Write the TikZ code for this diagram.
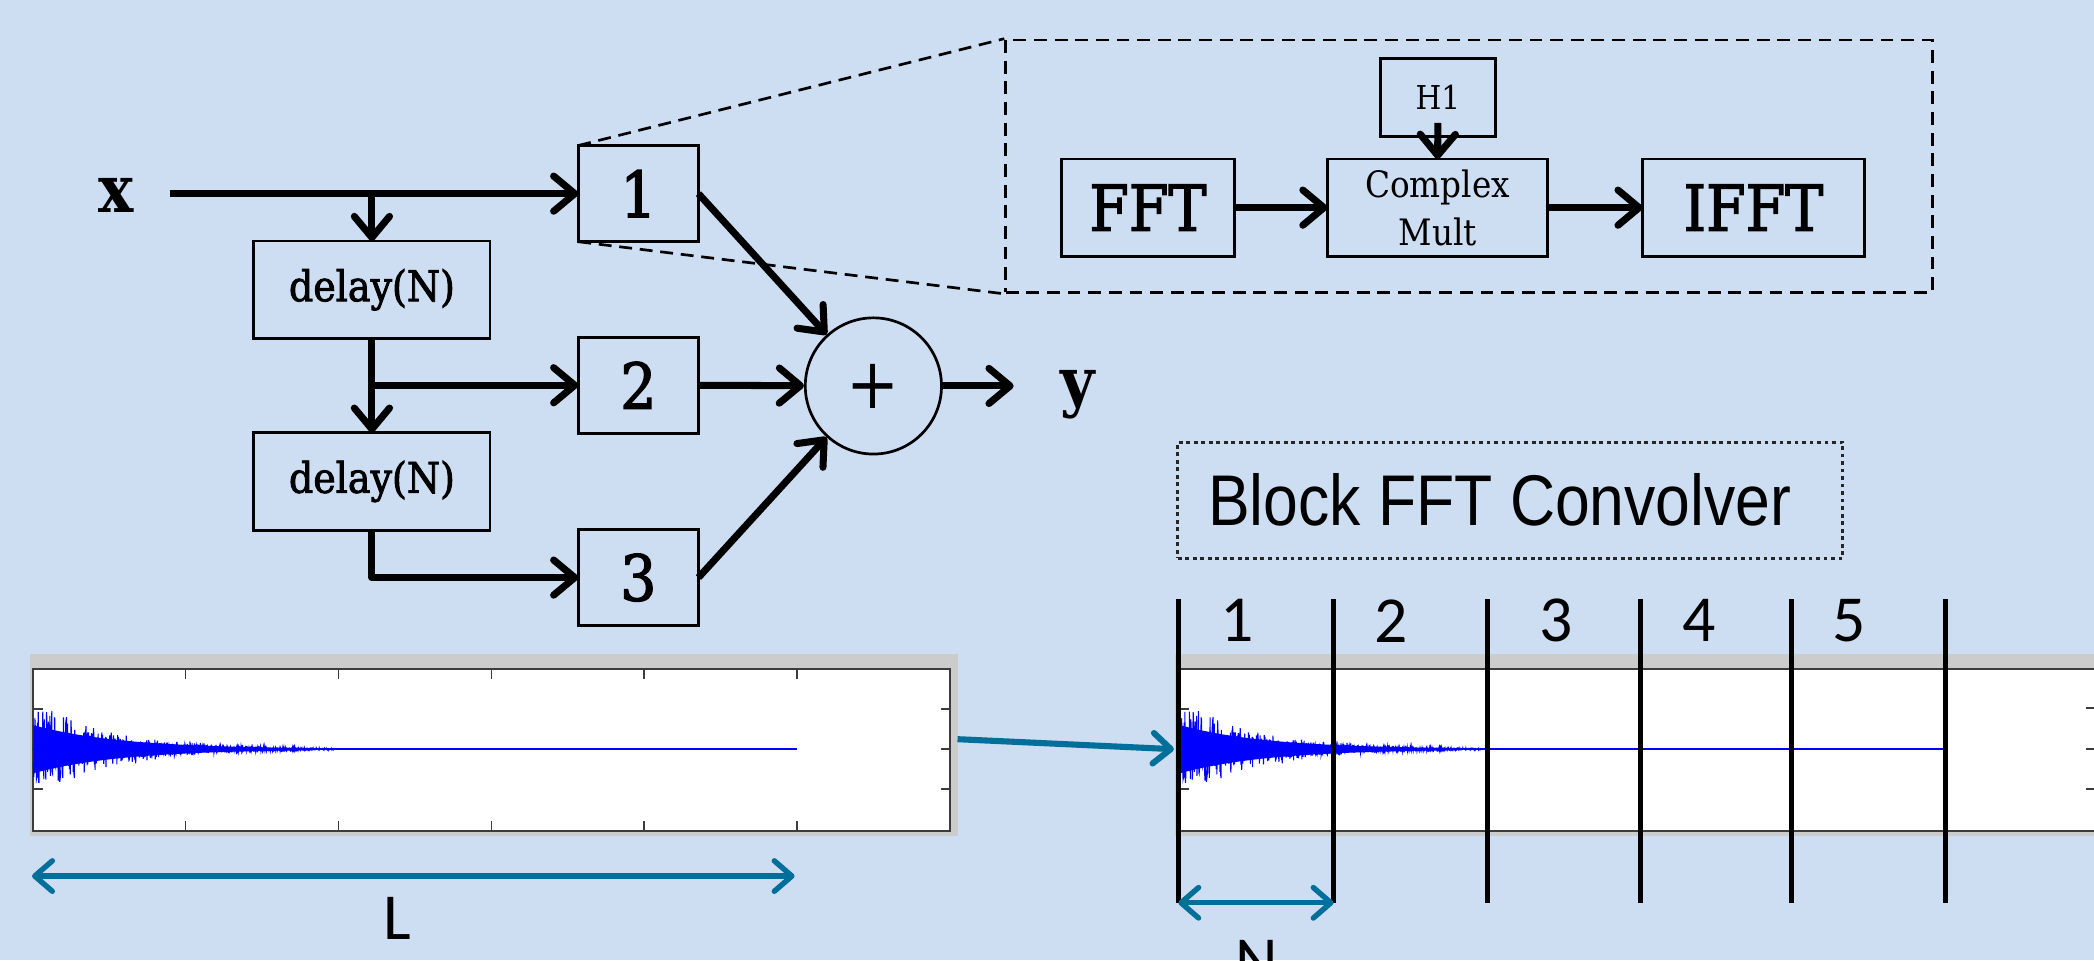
\documentclass[tikz,border=0pt]{standalone}
\usepackage{fontspec}
\usetikzlibrary{arrows.meta}
\newfontfamily\serfont{DejaVu Serif Condensed}
\newfontfamily\serfontmed[FakeBold=2]{DejaVu Serif Condensed}
\newfontfamily\bfcfont[FakeStretch=0.87]{Liberation Sans}
\newfontfamily\calfont{Carlito}
\definecolor{bg}{RGB}{205,221,242}
\definecolor{framegray}{RGB}{204,204,204}
\definecolor{tealarrow}{RGB}{0,112,155}
\definecolor{axisgray}{RGB}{60,60,60}
\definecolor{waveblue}{RGB}{0,0,255}
\begin{document}
\begin{tikzpicture}[x=0.02cm,y=-0.02cm,
  sz/.style 2 args={minimum width={#1*0.02cm},minimum height={#2*0.02cm}},
  blk/.style={draw=black,line width=1.15pt,inner sep=0pt,outer sep=0pt},
  conn/.style={line width=3pt,line join=round,-{Straight Barb[length=9pt,width=15pt,round]}},
  tconn/.style={draw=tealarrow,line width=2.3pt,{Straight Barb[length=7.5pt,width=13pt,round]}-{Straight Barb[length=7.5pt,width=13pt,round]}},
  tconnone/.style={draw=tealarrow,line width=2.6pt,-{Straight Barb[length=7.5pt,width=13pt,round]}},
  dashline/.style={line width=1.15pt,dash pattern=on 5.5pt off 3.3pt},
  dashbox/.style={draw=black,line width=1.15pt,dash pattern=on 5.5pt off 3.3pt,inner sep=0pt},
  dotbox/.style={draw=black!85,line width=1.3pt,dash pattern=on 1.6pt off 1.6pt,inner sep=0pt},
  tick/.style={draw=axisgray,line width=0.7pt},
  wave/.style={draw=waveblue,line width=0.45pt},
  blockline/.style={draw=black,line width=2.1pt},
  delayfont/.style={font=\serfontmed\fontsize{18}{18}\selectfont},
  digfont/.style={font=\serfontmed\fontsize{27}{27}\selectfont},
  bigfont/.style={font=\serfontmed\fontsize{27}{27}\selectfont},
  xyfont/.style={font=\serfont\bfseries\fontsize{28}{28}\selectfont,inner sep=0pt},
  calnum/.style={font=\calfont\fontsize{28}{28}\selectfont,inner sep=0pt}
]
\clip (0,0) rectangle (1568,719);
\fill[bg] (0,0) rectangle (1568,719);

% ---------- left block diagram ----------
\node[xyfont] (xin) at (87,146) {x};
\node[blk,sz={90}{72},digfont] (b1) at (478,145) {1};
\node[blk,sz={90}{72},digfont] (b2) at (478,288.5) {2};
\node[blk,sz={90}{72},digfont] (b3) at (478,432.5) {3};
\node[blk,sz={177}{73},delayfont] (d1) at (278.5,217) {delay(N)};
\node[blk,sz={177}{73},delayfont] (d2) at (278.5,360.5) {delay(N)};
\node[circle,draw=black,line width=1.15pt,inner sep=0pt,minimum size={102*0.02cm},
      font=\serfont\fontsize{30}{30}\selectfont] (sum) at (654,289) {+};
\node[anchor=base,xyfont] (yout) at (807,303) {y};

\coordinate (xs) at (127,145);
\coordinate (j1) at (278.5,145);
\coordinate (j2) at (278.5,288.5);
\coordinate (yend) at (759,289);

\draw[conn] (xs) -- (b1.west);
\draw[conn] (j1) -- (d1.north);
\draw[conn] (d1.south) -- (d2.north);
\draw[conn] (j2) -- (b2.west);
\draw[conn] (d2.south) |- (b3.west);
\draw[conn] (b1.east) -- (sum);
\draw[conn] (b2.east) -- (sum);
\draw[conn] (b3.east) -- (sum);
\draw[conn] (sum.east) -- (yend);

% ---------- zoomed detail ----------
\node[dashbox,sz={694}{189}] (zoombox) at (1100,124.5) {};
\draw[dashline] (b1.north west) -- (zoombox.north west);
\draw[dashline] (b1.south west) -- (zoombox.south west);

\node[blk,sz={130}{73},bigfont] (fft) at (859.6,155.5) {FFT};
\node[blk,sz={165}{73},align=center,font=\serfont\fontsize{15.5}{20.4}\selectfont] (cm) at (1076.5,155.5) {Complex\\Mult};
\node[blk,sz={166}{73},bigfont] (ifft) at (1313,155.5) {IFFT};
\node[blk,sz={86}{58},font=\serfont\fontsize{14}{14}\selectfont] (h1) at (1076.7,73) {H1};
\draw[conn] (fft.east) -- (cm.west);
\draw[conn] (cm.east) -- (ifft.west);
\draw[conn] ([yshift=0.2cm]h1.south) -- (cm.north);

% ---------- Block FFT Convolver label ----------
\node[dotbox,sz={498}{87},font=\bfcfont\fontsize{30.6}{30.6}\selectfont] (bfc) at (1131,374.5) {\hspace*{-0.32cm}Block FFT Convolver};

% ---------- plot 1 ----------
\fill[framegray] (22.5,490) rectangle (717,626);
\filldraw[fill=white,draw=axisgray,line width=0.8pt] (25,501) rectangle (711.5,622);
\foreach \t in {139,253.5,368,482,597} {
  \draw[tick] (\t,501) -- ++(0,7.5);
  \draw[tick] (\t,622) -- ++(0,-7.5);
}
\foreach \t in {531,561,591} \draw[tick] (711.5,\t) -- ++(-7,0);
\foreach \t in {531,591} \draw[tick] (25,\t) -- ++(7,0);
\draw[draw=waveblue,line width=1.1pt] (25,561) -- (597,561);
\fill[waveblue] plot[domain=0:200,samples=60,variable=\t] ({25+\t},{561+18*exp(-\t/66)})
  -- plot[domain=200:0,samples=60,variable=\t] ({25+\t},{561-18*exp(-\t/66)}) -- cycle;
\pgfmathsetseed{4242}
\draw[wave] plot[domain=0:225,samples=800,variable=\t] ({25+\t},{561+38*exp(-\t/60)*(0.75*rand+0.3*rand)});

% ---------- plot 2 ----------
\fill[framegray] (880,490) rectangle (1580,626);
\filldraw[fill=white,draw=axisgray,line width=0.8pt] (883.6,501) rectangle (1590,622);
\foreach \t in {530,561,591} \draw[tick] (1569,\t) -- ++(-7,0);
\foreach \t in {531,591} \draw[tick] (883.6,\t) -- ++(7,0);
\draw[draw=waveblue,line width=1.1pt] (883.6,561) -- (1455.6,561);
\fill[waveblue] plot[domain=0:200,samples=60,variable=\t] ({883.6+\t},{561+18*exp(-\t/66)})
  -- plot[domain=200:0,samples=60,variable=\t] ({883.6+\t},{561-18*exp(-\t/66)}) -- cycle;
\pgfmathsetseed{4242}
\draw[wave] plot[domain=0:225,samples=800,variable=\t] ({883.6+\t},{561+38*exp(-\t/60)*(0.75*rand+0.3*rand)});

% block separators
\foreach \bx in {882.3,998.6,1113.5,1228.5,1341.7,1456.6}
  \draw[blockline] (\bx,448.6) -- (\bx,676);
\node[calnum] (n1) at (926,464.8) {1};
\node[calnum] (n2) at (1042,464.8) {2};
\node[calnum] (n3) at (1165,464.8) {3};
\node[calnum] (n4) at (1272,464.8) {4};
\node[calnum] (n5) at (1385,464.8) {5};

% ---------- teal arrows ----------
\coordinate (pa) at (717,553.5);
\coordinate (pb) at (879,561);
\draw[tconnone] (pa) -- (pb);
\coordinate (la) at (24,656);
\coordinate (lb) at (595,656);
\draw[tconn] (la) -- (lb);
\node[calnum] (lab) at (297.5,688) {L};
\coordinate (na) at (882.3,676);
\coordinate (nb) at (998.6,676);
\draw[tconn] (na) -- (nb);
\node[calnum] (nlab) at (941,720) {N};
\end{tikzpicture}
\end{document}
